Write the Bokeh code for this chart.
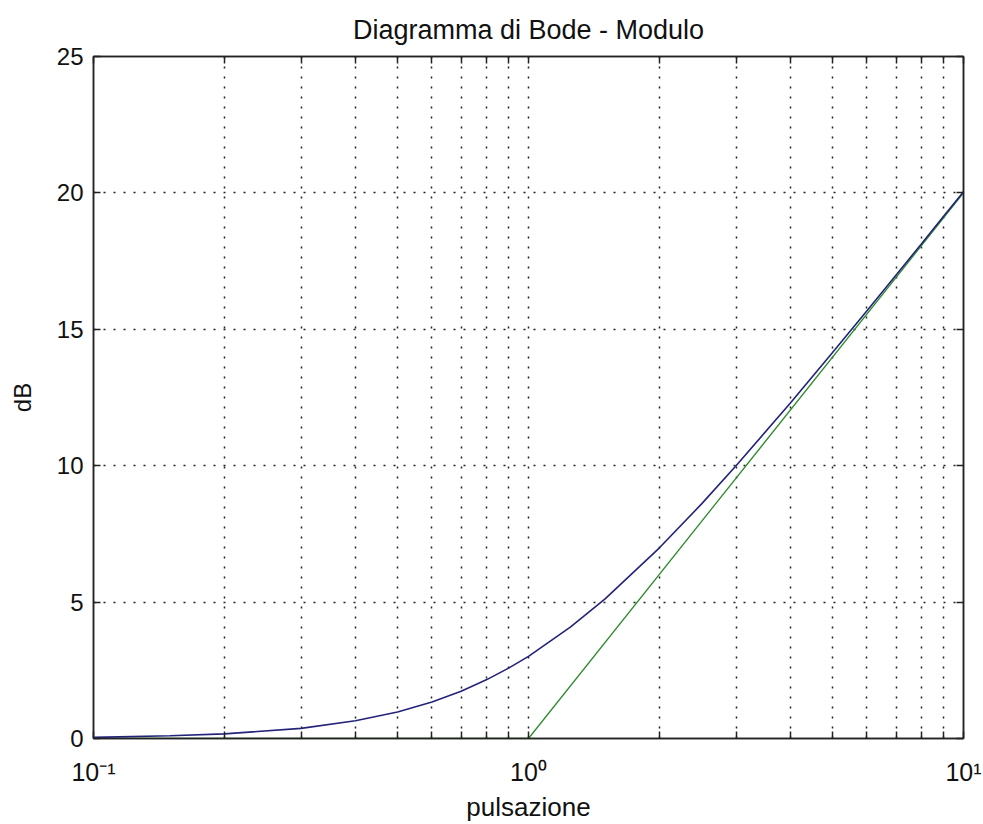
from bokeh.plotting import figure
from bokeh.models import FixedTicker, LogAxis, LinearAxis, Range1d
from bokeh.embed import file_html
from bokeh.resources import INLINE

# Bode magnitude of (1 + jw): exact curve and straight-line asymptote
freq = [0.1, 0.15, 0.2, 0.3, 0.4, 0.5, 0.6, 0.7, 0.8, 0.9, 1.0,
        1.25, 1.5, 2.0, 2.5, 3.0, 4.0, 5.0, 6.0, 7.0, 8.0, 9.0, 10.0]
mag_db = [0.04, 0.10, 0.17, 0.37, 0.65, 0.97, 1.34, 1.73, 2.15, 2.58, 3.01,
          4.09, 5.12, 6.99, 8.60, 10.0, 12.30, 14.15, 15.68, 16.99, 18.13, 19.14, 20.04]

asym_freq = [0.1, 1.0, 10.0]
asym_db = [0.0, 0.0, 20.0]

x_major = [0.1, 1.0, 10.0]
x_minor = [0.2, 0.3, 0.4, 0.5, 0.6, 0.7, 0.8, 0.9,
           2.0, 3.0, 4.0, 5.0, 6.0, 7.0, 8.0, 9.0]
x_labels = ["10\u207b\u00b9", "10\u2070", "10\u00b9"]
y_major = [0, 5, 10, 15, 20, 25]

FONT = "Liberation Sans"
DOTS = "2 8"
INK = "#222222"
TEXT = "#111111"

p = figure(width=983, height=824, x_axis_type="log",
           x_range=Range1d(0.1, 10), y_range=Range1d(0, 25),
           output_backend="svg", toolbar_location=None,
           title="Diagramma di Bode - Modulo",
           min_border_left=93, min_border_right=20,
           min_border_top=56, min_border_bottom=84)
p.background_fill_color = "white"
p.border_fill_color = "white"
p.outline_line_color = INK
p.outline_line_width = 1.5

p.title.align = "center"
p.title.text_font = FONT
p.title.text_font_size = "27px"
p.title.text_font_style = "normal"
p.title.text_color = TEXT
p.title.standoff = 24

xticker = FixedTicker(ticks=x_major, minor_ticks=x_minor)
yticker = FixedTicker(ticks=y_major)


def style_ticks(ax, minor=True):
    ax.axis_line_color = INK
    ax.axis_line_width = 1.5
    ax.major_tick_in = 7
    ax.major_tick_out = 0
    ax.minor_tick_in = 7
    ax.minor_tick_out = 0
    ax.major_tick_line_color = INK
    ax.minor_tick_line_color = INK if minor else None
    ax.major_tick_line_width = 1.5
    ax.minor_tick_line_width = 1.5


def hide_tick_labels(ax):
    ax.major_label_text_font_size = "1px"
    ax.major_label_text_color = None
    ax.major_label_standoff = 0


# bottom axis: decades labelled as powers of ten
xa = p.xaxis[0]
xa.ticker = xticker
xa.major_label_overrides = dict(zip(x_major, x_labels))
xa.major_label_text_font = FONT
xa.major_label_text_font_size = "25px"
xa.major_label_text_color = TEXT
xa.major_label_standoff = 19
xa.axis_label = "pulsazione"
xa.axis_label_text_font = FONT
xa.axis_label_text_font_size = "26px"
xa.axis_label_text_font_style = "normal"
xa.axis_label_text_color = TEXT
xa.axis_label_standoff = 3
style_ticks(xa)

ya = p.yaxis[0]
ya.ticker = yticker
ya.axis_label = "dB"
ya.axis_label_text_font = FONT
ya.axis_label_text_font_size = "24px"
ya.axis_label_text_font_style = "normal"
ya.axis_label_text_color = TEXT
ya.axis_label_standoff = 18
ya.major_label_text_font = FONT
ya.major_label_text_font_size = "24px"
ya.major_label_text_color = TEXT
ya.major_label_standoff = 10
style_ticks(ya, minor=False)

# mirrored tick marks on the top and right edges
top = LogAxis(ticker=xticker)
right = LinearAxis(ticker=yticker)
hide_tick_labels(top)
hide_tick_labels(right)
style_ticks(top)
style_ticks(right, minor=False)
p.add_layout(top, "above")
p.add_layout(right, "right")

# dotted grid on decades and sub-decades
p.xgrid.ticker = xticker
p.xgrid.grid_line_color = INK
p.xgrid.grid_line_dash = DOTS
p.xgrid.grid_line_width = 1.5
p.xgrid.minor_grid_line_color = INK
p.xgrid.minor_grid_line_dash = DOTS
p.xgrid.minor_grid_line_width = 1.5
p.ygrid.ticker = yticker
p.ygrid.grid_line_color = INK
p.ygrid.grid_line_dash = DOTS
p.ygrid.grid_line_width = 1.5

p.line(asym_freq, asym_db, line_color="#2e8b2e", line_width=1.3)
p.line(freq, mag_db, line_color="#23237a", line_width=1.6)

open("out.html", "w").write(file_html(p, INLINE))
